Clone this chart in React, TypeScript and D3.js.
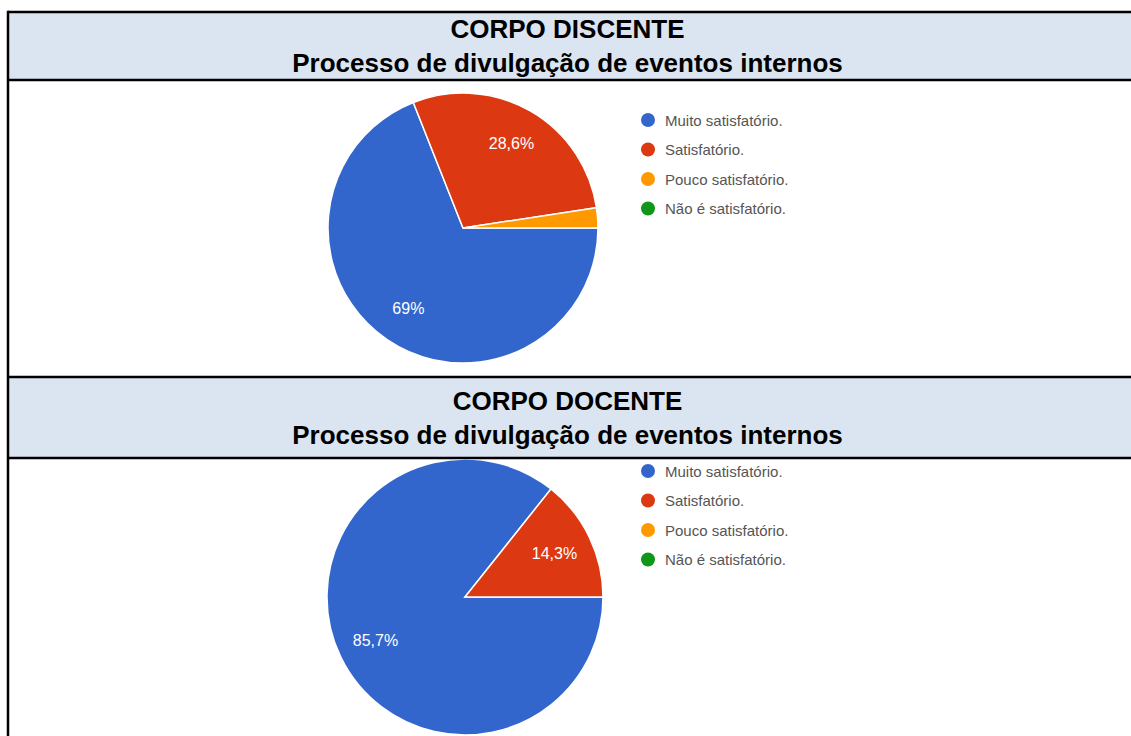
import React, { useEffect, useRef } from 'react';
import * as d3 from 'd3';

// Legend categories and colors (Google Forms palette)
const categories = ['Muito satisfatório.', 'Satisfatório.', 'Pouco satisfatório.', 'Não é satisfatório.'];
const sliceColors = ['#3366cc', '#dc3912', '#ff9900', '#109618'];

// Percent values per group
const discenteValues = [69, 28.6, 2.4, 0];
const docenteValues = [85.7, 14.3, 0, 0];

const sectionTitles = ['CORPO DISCENTE', 'CORPO DOCENTE'];
const subtitle = 'Processo de divulgação de eventos internos';

const WIDTH = 1131;
const HEIGHT = 736;

/**
 * Draw one pie with its legend
 */
const drawPie = (g, values, cx, cy, radius, legendX, legendY) => {
  const data = values.map((v, i) => ({ label: categories[i], value: v, color: sliceColors[i] }));

  const pie = d3.pie()
    .value(d => d.value)
    .sort(null)
    .startAngle(Math.PI / 2)
    .endAngle(Math.PI / 2 + 2 * Math.PI);

  const arcs = pie(data.filter(d => d.value > 0));

  const arc = d3.arc().innerRadius(0).outerRadius(radius);
  const labelArc = d3.arc().innerRadius(radius * 0.72).outerRadius(radius * 0.72);

  const pieG = g.append('g').attr('transform', `translate(${cx}, ${cy})`);

  pieG.selectAll('path')
    .data(arcs)
    .enter()
    .append('path')
    .attr('d', arc)
    .attr('fill', d => d.data.color)
    .attr('stroke', '#ffffff')
    .attr('stroke-width', 1.5);

  pieG.selectAll('text')
    .data(arcs.filter(d => d.data.value >= 5))
    .enter()
    .append('text')
    .attr('transform', d => `translate(${labelArc.centroid(d)})`)
    .attr('text-anchor', 'middle')
    .attr('dominant-baseline', 'central')
    .attr('fill', '#ffffff')
    .style('font-family', 'Arial, "Liberation Sans", sans-serif')
    .style('font-size', '16px')
    .text(d => `${String(d.data.value).replace('.', ',')}%`);

  // Legend
  const rowH = 29.5;
  const legend = g.append('g').attr('transform', `translate(${legendX}, ${legendY})`);
  const rows = legend.selectAll('g')
    .data(data)
    .enter()
    .append('g')
    .attr('transform', (d, i) => `translate(0, ${i * rowH})`);

  rows.append('circle')
    .attr('r', 7)
    .attr('fill', d => d.color);

  rows.append('text')
    .attr('x', 17)
    .attr('dominant-baseline', 'central')
    .attr('fill', '#555555')
    .style('font-family', 'Arial, "Liberation Sans", sans-serif')
    .style('font-size', '15px')
    .text(d => d.label);
};

const App = () => {
  const ref = useRef(null);

  useEffect(() => {
    if (!ref.current) return;
    const svg = d3.select(ref.current);
    svg.selectAll('*').remove();

    const left = 8;
    const top = 12;
    const headers = [
      { y0: top, y1: 80 },
      { y0: 377, y1: 458 },
    ];

    svg.append('rect').attr('width', WIDTH).attr('height', HEIGHT).attr('fill', '#ffffff');

    headers.forEach((h, i) => {
      svg.append('rect')
        .attr('x', left)
        .attr('y', h.y0)
        .attr('width', WIDTH - left)
        .attr('height', h.y1 - h.y0)
        .attr('fill', '#dbe5f1');

      const mid = (h.y0 + h.y1) / 2;
      svg.append('text')
        .attr('x', WIDTH / 2 + 2)
        .attr('y', mid - 17)
        .attr('text-anchor', 'middle')
        .attr('dominant-baseline', 'central')
        .style('font-family', 'Arial, "Liberation Sans", sans-serif')
        .style('font-weight', 'bold')
        .style('font-size', '26px')
        .text(sectionTitles[i]);

      svg.append('text')
        .attr('x', WIDTH / 2 + 2)
        .attr('y', mid + 17)
        .attr('text-anchor', 'middle')
        .attr('dominant-baseline', 'central')
        .style('font-family', 'Arial, "Liberation Sans", sans-serif')
        .style('font-weight', 'bold')
        .style('font-size', '26px')
        .text(subtitle);
    });

    drawPie(svg, discenteValues, 463, 228, 135, 648, 120);
    drawPie(svg, docenteValues, 465, 597, 138, 648, 471);

    // Table borders
    const lines = [
      [left, top, WIDTH, top],
      [left, 80, WIDTH, 80],
      [left, 377, WIDTH, 377],
      [left, 458, WIDTH, 458],
    ];
    svg.selectAll('line.border')
      .data(lines)
      .enter()
      .append('line')
      .attr('class', 'border')
      .attr('x1', d => d[0])
      .attr('y1', d => d[1])
      .attr('x2', d => d[2])
      .attr('y2', d => d[3])
      .attr('stroke', '#000000')
      .attr('stroke-width', 2.5);

    svg.append('line')
      .attr('x1', left)
      .attr('y1', top - 1.25)
      .attr('x2', left)
      .attr('y2', HEIGHT)
      .attr('stroke', '#000000')
      .attr('stroke-width', 2.5);
  }, []);

  return (
    <svg
      ref={ref}
      width={WIDTH}
      height={HEIGHT}
      style={{ position: 'absolute', left: 0, top: 0, display: 'block' }}
    />
  );
};

export default App;
